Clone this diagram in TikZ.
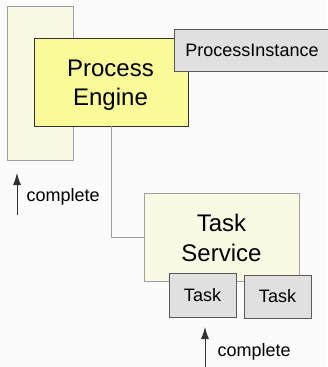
\documentclass[tikz,border=0pt]{standalone}
\usepackage{fontspec}
\setmainfont{Liberation Sans}
\usetikzlibrary{arrows.meta}

\definecolor{paper}{RGB}{251,251,251}
\definecolor{paleyellow}{RGB}{250,250,228}
\definecolor{engineyellow}{RGB}{250,250,152}
\definecolor{boxgray}{RGB}{224,224,224}
\definecolor{edgegray}{RGB}{160,160,160}

\tikzset{
  bigtext/.style={font=\fontsize{24}{29.5}\selectfont, align=center},
  smalltext/.style={font=\fontsize{18}{22}\selectfont},
  palebox/.style={draw=edgegray, fill=paleyellow, line width=0.9pt},
  graybox/.style={draw=black!65, fill=boxgray, line width=0.9pt, smalltext},
  pusharrow/.style={-{Latex[length=12pt,width=8pt]}, line width=0.8pt, black!80}
}

\begin{document}
\begin{tikzpicture}[x=1pt,y=-1pt]
  %page background
  \fill[paper] (0,0) rectangle (327,367);
  \useasboundingbox (0,0) rectangle (327,367);

  %stack behind the engine
  \node[palebox, minimum width=66pt, minimum height=154pt] (stack) at (40,83) {};

  %process engine with its instance
  \node[draw=black!80, fill=engineyellow, line width=0.9pt, bigtext,
        minimum width=154pt, minimum height=88pt] (engine) at (111,82) {};
  \node[bigtext] (enginetext) at (110.5,85) {Process\\Engine};
  \node[graybox, minimum width=156pt, minimum height=42pt] (instance) at (252,50) {ProcessInstance};

  %task service and its tasks
  \node[palebox, bigtext, minimum width=155pt, minimum height=88pt] (service) at (221.5,237) {};
  \node[bigtext] (servicetext) at (221.5,238) {Task\\Service};
  \node[graybox, minimum width=67pt, minimum height=44pt] (taskA) at (202.5,295) {Task};
  \node[graybox, minimum width=67pt, minimum height=43pt] (taskB) at (277.5,296.5) {Task};

  %link engine -> service
  \draw[edgegray, line width=1pt] (engine.south) |- (service.west);

  %complete calls
  \coordinate (leftfoot) at (17,215);
  \coordinate (lefthead) at (17,173);
  \draw[pusharrow] (leftfoot) -- (lefthead);
  \node[smalltext, anchor=west] (leftlabel) at (23,197) {complete};

  \coordinate (lowfoot) at (205,367);
  \coordinate (lowhead) at (205,327);
  \draw[pusharrow] (lowfoot) -- (lowhead);
  \node[smalltext, anchor=west] (lowlabel) at (214,352) {complete};
\end{tikzpicture}
\end{document}
